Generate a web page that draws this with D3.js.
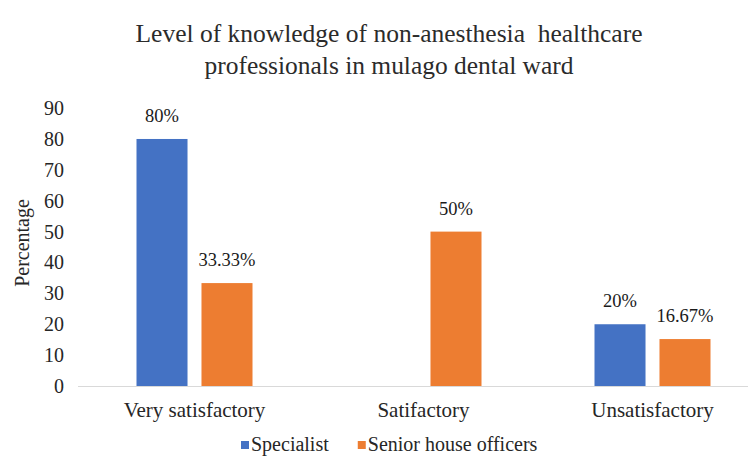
<!DOCTYPE html>
<html>
<head>
<meta charset="utf-8">
<script src="https://cdn.jsdelivr.net/npm/d3@7"></script>
<style>
html,body{margin:0;padding:0;background:#fff;}
svg{display:block;}
svg text{font-family:"Liberation Serif","Times New Roman",serif !important;}
</style>
</head>
<body>
<svg id="chart" width="756" height="456"></svg>
<script>
const titleLines = ["Level of knowledge of non-anesthesia  healthcare", "professionals in mulago dental ward"];
const categories = ["Very satisfactory", "Satifactory", "Unsatisfactory"];
const seriesNames = ["Specialist", "Senior house officers"];
const specialistValues = [80, 0, 20];
const seniorValues = [33.33, 50, 15.2];
const specialistLabels = ["80%", null, "20%"];
const seniorLabels = ["33.33%", "50%", "16.67%"];
const yTicks = [0, 10, 20, 30, 40, 50, 60, 70, 80, 90];
const yTitle = "Percentage";
const colors = ["#4472C4", "#ED7D31"];

const svg = d3.select("#chart");

const y = d3.scaleLinear().domain([0, 90]).range([386, 108.1]);
const x0 = d3.scaleBand().domain(categories).range([80, 767]).padding(0);
const x1 = d3.scaleBand().domain(seriesNames).range([56.5, 172.5]).paddingInner(0.215);

// title
const tl = [507, 369];
titleLines.forEach((t, i) => {
  svg.append("text").attr("x", 389).attr("y", 42 + i * 32)
    .attr("text-anchor", "middle").attr("font-size", 25).attr("fill", "#2b2b2b")
    .attr("textLength", tl[i]).attr("lengthAdjust", "spacingAndGlyphs")
    .style("white-space", "pre")
    .text(t);
});

// baseline
svg.append("line").attr("x1", 78).attr("x2", 748).attr("y1", y(0) + 0.5).attr("y2", y(0) + 0.5)
  .attr("stroke", "#d9d9d9").attr("stroke-width", 1.2);

// y axis (labels only)
const yAxis = d3.axisLeft(y).tickValues(yTicks).tickSize(0).tickPadding(0);
const yg = svg.append("g").attr("transform", "translate(64,0)").call(yAxis);
yg.attr("font-family", null);
yg.select(".domain").remove();
yg.selectAll("text").attr("font-size", 20).attr("fill", "#262626");

svg.append("text").attr("transform", "translate(29,243) rotate(-90)")
  .attr("text-anchor", "middle").attr("font-size", 20).attr("fill", "#262626").text(yTitle);

// bars
const rows = categories.map((c, i) => ({
  cat: c,
  items: [
    {s: seriesNames[0], v: specialistValues[i], lab: specialistLabels[i], col: colors[0]},
    {s: seriesNames[1], v: seniorValues[i], lab: seniorLabels[i], col: colors[1]}
  ]
}));

const g = svg.selectAll("g.cat").data(rows).join("g").attr("class", "cat")
  .attr("transform", d => `translate(${x0(d.cat)},0)`);

g.selectAll("rect").data(d => d.items.filter(it => it.v > 0)).join("rect")
  .attr("x", d => x1(d.s)).attr("width", x1.bandwidth())
  .attr("y", d => y(d.v)).attr("height", d => y(0) - y(d.v))
  .attr("fill", d => d.col);

g.selectAll("text.lab").data(d => d.items.filter(it => it.lab)).join("text").attr("class", "lab")
  .attr("x", d => x1(d.s) + x1.bandwidth() / 2).attr("y", d => y(d.v) - 17)
  .attr("text-anchor", "middle").attr("font-size", 18.5).attr("fill", "#1a1a1a")
  .text(d => d.lab);

// x axis labels
const xAxis = d3.axisBottom(x0).tickSize(0).tickPadding(0);
const xg = svg.append("g").attr("transform", "translate(0,417)").call(xAxis);
xg.attr("font-family", null);
xg.select(".domain").remove();
xg.selectAll("text").attr("font-size", 21).attr("fill", "#262626").attr("dy", 0);

// legend
const leg = svg.append("g");
let lx = 241;
seriesNames.forEach((n, i) => {
  leg.append("rect").attr("x", lx).attr("y", 441).attr("width", 8).attr("height", 8).attr("fill", colors[i]);
  const t = leg.append("text").attr("x", lx + 10).attr("y", 451).attr("font-size", 20).attr("fill", "#262626").text(n);
  lx = lx + 10 + t.node().getComputedTextLength() + 29;
});
</script>
</body>
</html>
